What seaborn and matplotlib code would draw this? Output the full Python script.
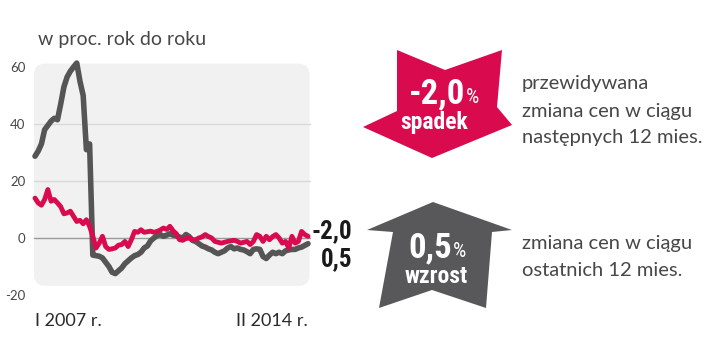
import numpy as np
import pandas as pd
import matplotlib
matplotlib.use('Agg')
import matplotlib.pyplot as plt
import seaborn as sns
from matplotlib.patches import FancyBboxPatch, Polygon

# dane: zmiana cen r/r, miesiecznie I 2007 - II 2014
actual = [28.7, 30.5, 33.0, 38.0, 39.5, 41.0, 42.0, 41.5, 47.0, 53.0,
          56.5, 58.5, 60.0, 61.4, 55.0, 50.0, 31.0, 33.0, -6.0, -6.2,
          -6.4, -7.0, -8.5, -10.0, -12.0, -12.5, -11.5, -10.5, -9.0, -8.0,
          -7.0, -6.2, -5.8, -5.0, -3.5, -2.8, -1.0, 0.0, 0.8, 1.2,
          0.6, 1.0, 1.5, 1.0, 0.8, 0.3, 0.0, 1.2, 0.5, -0.8,
          -1.2, -2.0, -2.8, -3.2, -3.8, -4.2, -5.0, -5.5, -5.0, -4.5,
          -3.5, -3.0, -3.8, -3.5, -4.0, -4.2, -4.8, -5.5, -4.0, -3.8,
          -4.0, -6.5, -7.2, -6.0, -5.0, -5.5, -5.0, -5.5, -4.5, -4.2,
          -4.0, -4.0, -3.5, -3.2, -2.6, -2.0]
expected = [14.0, 12.3, 11.5, 13.5, 17.0, 12.9, 13.5, 12.3, 11.0, 8.5,
            8.8, 9.4, 7.6, 5.8, 6.2, 5.0, 6.4, 4.1, 0.6, -3.5,
            -1.8, 0.6, -3.0, -4.0, -3.8, -3.5, -2.5, -2.3, -1.2, -3.0,
            -0.6, 2.3, 2.0, 2.9, 2.0, 2.2, 2.4, 2.0, 2.3, 2.8,
            3.5, 3.0, 4.1, 2.5, 1.5, -0.6, -0.8, -0.2, 0.0, -0.6,
            -0.6, 0.0, 0.4, 1.2, 0.5, 0.0, -1.2, -1.5, -1.8, -1.5,
            -1.2, -1.0, -0.8, -1.2, -1.8, -1.5, -1.2, -2.3, -1.2, 1.2,
            0.6, -1.2, 0.6, -0.6, 0.5, 1.2, 0.0, -1.8, -1.2, -3.5,
            0.6, -1.8, -1.2, 2.3, 1.2, 0.6]
y_ticks = [60, 40, 20, 0, -20]
x_labels = ['I 2007 r.', 'II 2014 r.']
end_labels = ['-2,0', '0,5']

RED = '#d90a4e'
GRAY = '#58585a'
TXT = '#474747'

sns.set_style('white')
plt.rcParams['font.family'] = ['Lato', 'DejaVu Sans']
narrow = ['Roboto Condensed', 'DejaVu Sans Condensed', 'Liberation Sans Narrow', 'Roboto', 'DejaVu Sans']

df = pd.DataFrame({'m': np.arange(len(actual)), 'actual': actual, 'expected': expected})

W, H = 720, 351
fig = plt.figure(figsize=(W / 100, H / 100), dpi=100)

def px(x, y):
    return (x / W, 1 - y / H)

# obszar wykresu: x 0..85 -> 35..308 px, y -20..62 -> 295..61 px
ymin, ymax = -20, 62
ax = fig.add_axes([35 / W, (H - 295) / H, 273 / W, (295 - 61.3) / H])
ax.set_xlim(0, len(actual) - 1)
ax.set_ylim(ymin, ymax)
ax.patch.set_alpha(0)
for s in ax.spines.values():
    s.set_visible(False)

# zaokraglone tlo
bbox = ax.get_window_extent()
ppx = bbox.width / (len(actual) - 1)
ppy = bbox.height / (ymax - ymin)
panel = FancyBboxPatch((-0.3, -16.8), len(actual) - 1 + 0.8, 61.2 + 16.8,
                       boxstyle='round,pad=0,rounding_size=3.5',
                       mutation_aspect=ppx / ppy,
                       fc='#f1f1f1', ec='none', clip_on=False, zorder=0)
ax.add_patch(panel)
for v in [20, 40]:
    ax.plot([-0.3, len(actual) - 0.5], [v, v], color='#d9d9d9', lw=1.0, zorder=1, clip_on=False)
ax.plot([-0.3, len(actual) - 0.5], [0, 0], color='#9a9a9a', lw=1.0, zorder=1, clip_on=False)

sns.lineplot(data=df, x='m', y='actual', color='#555555', ax=ax, zorder=3)
sns.lineplot(data=df, x='m', y='expected', color=RED, ax=ax, zorder=4)
for line, lw in zip(ax.lines[-2:], [4.0, 3.5]):
    line.set_clip_on(False)
    line.set_linewidth(lw)
    line.set_solid_joinstyle('round')
    line.set_solid_capstyle('round')

ax.set_yticks(y_ticks)
ax.set_yticklabels([str(t) for t in y_ticks], color=TXT, fontsize=9.5)
ax.tick_params(axis='y', length=0, pad=7)
ax.set_xticks([0, len(actual) - 1])
ax.set_xticklabels(x_labels, color='#2a2a2a', fontsize=13)
ax.tick_params(axis='x', length=0, pad=13)
xl = ax.get_xticklabels()
xl[0].set_ha('left')
xl[1].set_ha('right')
ax.set_xlabel('')
ax.set_ylabel('')

fig.text(*px(38, 40), 'w proc. rok do roku', color=TXT, fontsize=14,
         va='center', ha='left')

fig.text(*px(352, 238), end_labels[0], color='#1a1a1a', fontsize=18,
         fontweight='bold', family=narrow, ha='right', va='baseline')
fig.text(*px(352, 266), end_labels[1], color='#1a1a1a', fontsize=18,
         fontweight='bold', family=narrow, ha='right', va='baseline')

# strzalki
red_arrow = [(397, 50), (445, 70), (502, 50), (497, 107), (512, 125),
             (432, 158), (363, 127), (397, 111)]
gray_arrow = [(433, 202), (512, 230), (492, 232), (486, 308), (432, 290),
              (379, 308), (393, 232), (367, 230)]
fig.patches.append(Polygon([px(*p) for p in red_arrow], closed=True, fc=RED, ec='none',
                           transform=fig.transFigure, figure=fig))
fig.patches.append(Polygon([px(*p) for p in gray_arrow], closed=True, fc=GRAY, ec='none',
                           transform=fig.transFigure, figure=fig))

def big_value(xr, yb, val):
    fig.text(*px(xr, yb), val, color='white', fontsize=25, fontweight='bold',
             family=narrow, ha='right', va='baseline')
    fig.text(*px(xr + 1, yb), '%', color='white', fontsize=15,
             family=narrow, ha='left', va='baseline')

big_value(465, 103, end_labels[0])
fig.text(*px(434, 129), 'spadek', color='white', fontsize=17, fontweight='bold',
         family=narrow, ha='center', va='baseline')
big_value(452, 257, end_labels[1])
fig.text(*px(436, 283), 'wzrost', color='white', fontsize=17, fontweight='bold',
         family=narrow, ha='center', va='baseline')

for i, s in enumerate(['przewidywana', 'zmiana cen w ciągu', 'następnych 12 mies.']):
    fig.text(*px(522, 84 + i * 27), s, color=TXT, fontsize=14.5,
             ha='left', va='center')
for i, s in enumerate(['zmiana cen w ciągu', 'ostatnich 12 mies.']):
    fig.text(*px(522, 243 + i * 27), s, color=TXT, fontsize=14.5,
             ha='left', va='center')

fig.savefig('out.png', dpi=100, facecolor='white')
